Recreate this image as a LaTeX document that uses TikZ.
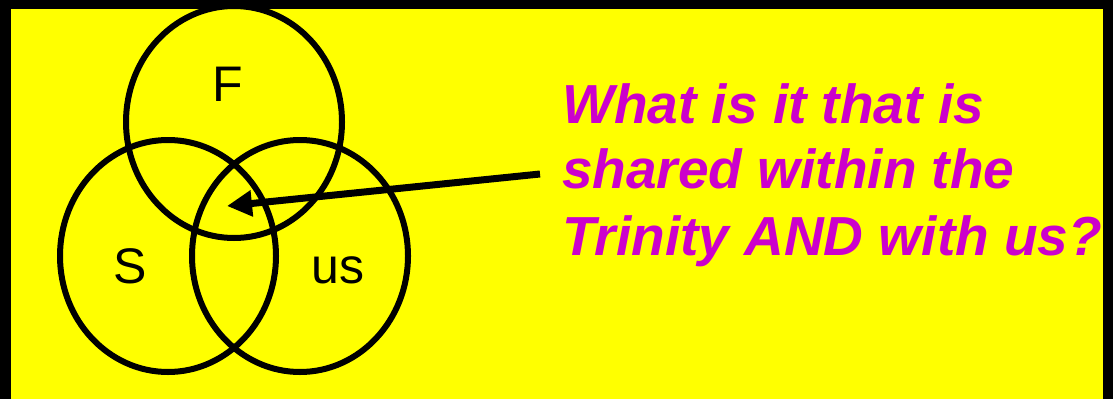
\documentclass[tikz,border=0pt]{standalone}
\usepackage{fontspec}
\setmainfont{Liberation Sans}
\usetikzlibrary{arrows.meta}
\definecolor{slideyellow}{RGB}{255,255,0}
\definecolor{askpink}{RGB}{204,0,204}
\tikzset{
    venn/.style={black, line width=6pt},
    letter/.style={font=\fontsize{50}{50}\selectfont, inner sep=0, anchor=base},
    question/.style={text=askpink, font=\fontsize{55}{66}\selectfont\bfseries\itshape, inner sep=0, anchor=base west}
}

\begin{document}
\begin{tikzpicture}[x=1pt, y=-1pt]
    \useasboundingbox (0, 0) rectangle (1113, 399);
    \fill[black] (0, 0) rectangle (1113, 399);
    \fill[slideyellow] (11, 9) rectangle (1103, 399);

    % The three circles
    \begin{scope}
        \clip (11, 9) rectangle (1103, 399);
        \draw[venn] (234, 122) ellipse [x radius=108pt, y radius=116pt];
        \draw[venn] (168, 256) ellipse [x radius=108pt, y radius=116pt];
        \draw[venn] (300, 256) ellipse [x radius=108pt, y radius=116pt];
    \end{scope}

    \node[letter] (father) at (228, 101.5) {F};
    \node[letter] (spirit) at (130, 283) {S};
    \node[letter] (us) at (338, 283) {us};

    % The question
    \node[question] (q1) at (562, 123) {What is it that is};
    \node[question] (q2) at (562, 188) {shared within the};
    \node[question] (q3) at (562, 255) {Trinity AND with us?};

    % Pointer into the middle
    \coordinate (tail) at (540, 174);
    \coordinate (tip) at (227, 206);
    \draw[line width=7pt, -{Triangle[length=25pt, width=25pt]}] (tail) -- (tip);
\end{tikzpicture}
\end{document}
